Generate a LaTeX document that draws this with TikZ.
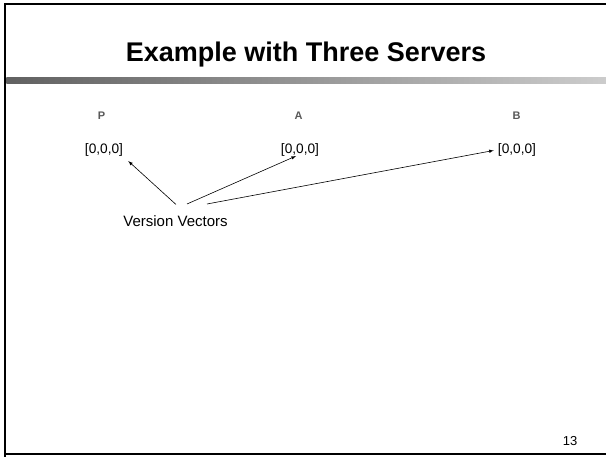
\documentclass[tikz,border=0pt]{standalone}
\usepackage{fontspec}
\setmainfont{Liberation Sans}
\begin{document}
\begin{tikzpicture}[x=1pt,y=-1pt,
  server/.style={font=\fontsize{11}{12}\selectfont\bfseries, text=black!65, anchor=base, inner sep=0pt},
  vec/.style={font=\fontsize{13.7}{15}\selectfont, anchor=base, inner sep=0pt},
  conn/.style={-latex, line width=0.6pt}]
\useasboundingbox (0,0) rectangle (606,457);
\fill[white] (0,0) rectangle (606,457);
% frame
\draw[line width=2.6pt] (5,457) -- (5,4) -- (606,4);
\draw[line width=2pt] (5,454.5) -- (606,454.5);
\shade[left color=black!62, right color=black!20] (6.3,78) rectangle (606,83.5);
% title
\node[anchor=base, inner sep=0pt] (title) at (306,62) {\fontsize{27}{32}\selectfont\bfseries Example with Three Servers};
% servers
\node[server] (P) at (101.5,120) {P};
\node[server] (A) at (298.5,120) {A};
\node[server] (B) at (516.5,120) {B};
\node[vec] (p) at (104,154) {[0,0,0]};
\node[vec] (a) at (300,154) {[0,0,0]};
\node[vec] (b) at (517,154) {[0,0,0]};
\node[font=\fontsize{15}{17}\selectfont, anchor=base, inner sep=0pt] (vv) at (175.5,227) {Version Vectors};
\coordinate (s1) at (176,204.5);
\coordinate (s2) at (187,204);
\coordinate (s3) at (207,204);
\draw[conn] (s1) -- ([shift={(5,4)}]p.south east);
\draw[conn] (s2) -- ([shift={(-4,-1)}]a.south);
\draw[conn] (s3) -- ([shift={(-4,0)}]b.west);
\node[font=\fontsize{13}{15}\selectfont, anchor=base, inner sep=0pt] (num) at (570,446) {13};
\end{tikzpicture}
\end{document}
